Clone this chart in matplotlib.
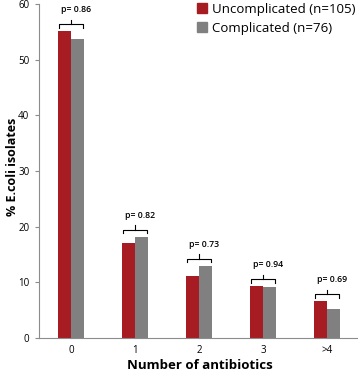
import matplotlib.pyplot as plt
import numpy as np
from matplotlib.patches import Patch

plt.rcParams["font.family"] = ["Open Sans", "DejaVu Sans"]

categories = ["0", "1", "2", "3", ">4"]
uncomplicated = [55.1, 17.0, 11.2, 9.3, 6.6]
complicated = [53.8, 18.2, 13.0, 9.1, 5.2]
p_values = ["p= 0.86", "p= 0.82", "p= 0.73", "p= 0.94", "p= 0.69"]
series_labels = ["Uncomplicated (n=105)", "Complicated (n=76)"]

red = "#A61C22"
gray = "#808080"
axis_color = "#8C8C8C"

fig = plt.figure(figsize=(3.58, 3.72), dpi=100)
ax = fig.add_axes([0.109, 0.091, 0.888, 0.898])

x = np.arange(len(categories))
w = 0.2
ax.bar(x - w / 2, uncomplicated, width=w, color=red, linewidth=0)
ax.bar(x + w / 2, complicated, width=w, color=gray, linewidth=0)

# braces with p values above each pair
for xi, u, c, p in zip(x, uncomplicated, complicated, p_values):
    top = max(u, c)
    yl = top + 1.3
    x0, x1 = xi - 0.18, xi + 0.19
    xm = (x0 + x1) / 2
    ax.plot([x0, x0, x1, x1], [yl - 0.7, yl, yl, yl - 0.7], color="black", lw=0.8,
            solid_joinstyle="round")
    ax.plot([xm, xm], [yl, yl + 0.8], color="black", lw=0.8)
    ax.text(xi + 0.08, yl + 2.6, p, ha="center", va="center", fontsize=6.3,
            fontweight="semibold")

ax.set_xlim(-0.5, 4.47)
ax.set_ylim(0, 60)
ax.set_yticks(range(0, 61, 10))
ax.set_xticks(x)
ax.set_xticklabels(categories)
ax.tick_params(axis="y", length=3, color=axis_color, labelsize=7, pad=4)
ax.tick_params(axis="x", length=0, labelsize=7, pad=5)

for s in ["top", "right"]:
    ax.spines[s].set_visible(False)
for s in ["left", "bottom"]:
    ax.spines[s].set_color(axis_color)
    ax.spines[s].set_linewidth(0.8)

ax.set_ylabel("% E.coli isolates", fontsize=9, fontweight="bold")
ax.yaxis.label.set_va("center")
ax.yaxis.set_label_coords(-0.082, 0.512)
ax.set_xlabel("Number of antibiotics", fontsize=9.5, fontweight="bold")
ax.xaxis.label.set_va("center")
ax.xaxis.set_label_coords(0.505, -0.082)

handles = [Patch(color=red), Patch(color=gray)]
ax.legend(handles, series_labels, loc="upper right", bbox_to_anchor=(1.012, 1.02),
          frameon=False, fontsize=9.5, handlelength=0.7, handleheight=0.7,
          handletextpad=0.4, labelspacing=0.45, borderaxespad=0)

fig.savefig("out.png", dpi=100)
